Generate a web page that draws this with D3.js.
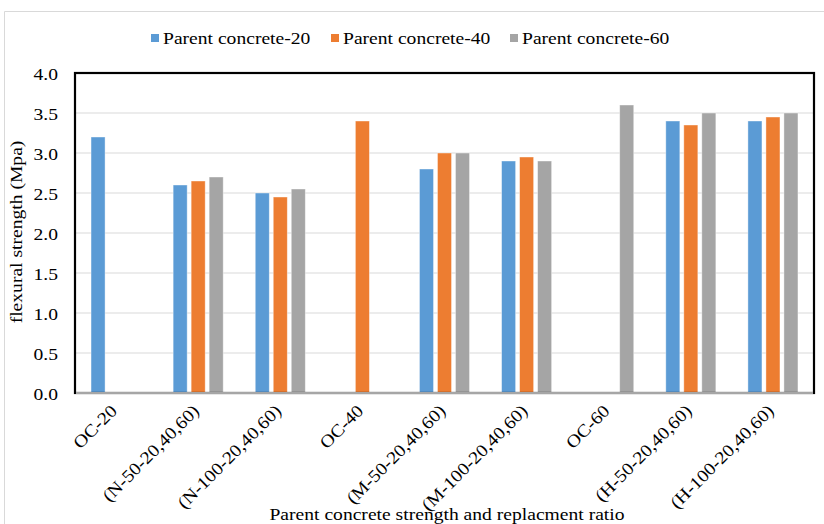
<!DOCTYPE html>
<html>
<head>
<meta charset="utf-8">
<script src="https://cdn.jsdelivr.net/npm/d3@7"></script>
<style>
  html, body { margin: 0; padding: 0; background: #fff; }
  svg { display: block; }
  text { font-family: "Liberation Serif", "Times New Roman", serif; fill: #000; }
</style>
</head>
<body>
<svg id="chart" width="824" height="524"></svg>
<script>
// Mix designs along the x axis
const categories = ["OC-20", "(N-50-20,40,60)", "(N-100-20,40,60)", "OC-40",
  "(M-50-20,40,60)", "(M-100-20,40,60)", "OC-60", "(H-50-20,40,60)", "(H-100-20,40,60)"];

// Flexural strength (MPa) for each parent concrete grade
const seriesNames = ["Parent concrete-20", "Parent concrete-40", "Parent concrete-60"];
const pc20 = [3.2, 2.6, 2.5, 0, 2.8, 2.9, 0, 3.4, 3.4];
const pc40 = [0, 2.65, 2.45, 3.4, 3.0, 2.95, 0, 3.35, 3.45];
const pc60 = [0, 2.7, 2.55, 0, 3.0, 2.9, 3.6, 3.5, 3.5];
const colors = ["#5B9BD5", "#ED7D31", "#A5A5A5"];

const yTicks = [0, 0.5, 1.0, 1.5, 2.0, 2.5, 3.0, 3.5, 4.0];
const yTitle = "flexural strength (Mpa)";
const xTitle = "Parent concrete strength and replacment ratio";

const seriesValues = [pc20, pc40, pc60];

// Wide serif lettering: glyphs are stretched along the reading direction
const FS = 17.5;
const WIDE = "scale(1.12,1)";

const svg = d3.select("#chart");
const plot = { left: 75, right: 814, top: 73, bottom: 393 };

// Outer chart border
svg.append("path")
  .attr("d", `M4.5,524 V11.5 H824`)
  .attr("fill", "none").attr("stroke", "#d9d9d9").attr("stroke-width", 1);

const x = d3.scaleBand().domain(categories).range([plot.left, plot.right]).paddingInner(0).paddingOuter(0);
const x1 = d3.scaleBand().domain(seriesNames).range([0, x.bandwidth()]).paddingInner(0.22).paddingOuter(0.89);
const y = d3.scaleLinear().domain([0, 4]).range([plot.bottom, plot.top]);

// Gridlines
svg.append("g")
  .selectAll("line")
  .data(yTicks)
  .join("line")
  .attr("x1", plot.left).attr("x2", plot.right)
  .attr("y1", d => y(d)).attr("y2", d => y(d))
  .attr("stroke", "#d9d9d9").attr("stroke-width", 1);

// Bars
const groups = svg.append("g")
  .selectAll("g")
  .data(categories)
  .join("g")
  .attr("transform", d => `translate(${x(d)},0)`);

groups.selectAll("rect")
  .data((c, i) => seriesNames.map((s, k) => ({ s, k, v: seriesValues[k][i] })).filter(d => d.v > 0))
  .join("rect")
  .attr("x", d => x1(d.s))
  .attr("width", x1.bandwidth())
  .attr("y", d => y(d.v))
  .attr("height", d => y(0) - y(d.v))
  .attr("fill", d => colors[d.k])
  .attr("stroke", "#ffffff").attr("stroke-opacity", 0.5).attr("stroke-width", 0.8);

// Plot frame
svg.append("rect")
  .attr("x", plot.left).attr("y", plot.top)
  .attr("width", plot.right - plot.left).attr("height", plot.bottom - plot.top)
  .attr("fill", "none").attr("stroke", "#000").attr("stroke-width", 2.2);

// Category axis line
svg.append("line")
  .attr("x1", plot.left + 1).attr("x2", plot.right - 1)
  .attr("y1", plot.bottom).attr("y2", plot.bottom)
  .attr("stroke", "#a6a6a6").attr("stroke-width", 2);

// Y axis labels
const yAxis = d3.axisLeft(y).tickValues(yTicks).tickFormat(d3.format(".1f")).tickSize(0).tickPadding(0);
svg.append("g")
  .attr("transform", `translate(${plot.left},0)`)
  .call(yAxis)
  .call(g => g.select(".domain").remove())
  .selectAll("text")
  .attr("font-family", "Liberation Serif, serif")
  .attr("font-size", FS).attr("fill", "#000")
  .attr("x", 0).attr("dy", "0.35em")
  .attr("transform", `translate(-17,0) ${WIDE}`);

// X axis labels, rotated
const xAxis = d3.axisBottom(x).tickSize(0).tickPadding(0);
svg.append("g")
  .attr("transform", `translate(0,${plot.bottom})`)
  .call(xAxis)
  .call(g => g.select(".domain").remove())
  .selectAll("text")
  .attr("font-family", "Liberation Serif, serif")
  .attr("font-size", FS).attr("fill", "#000")
  .attr("text-anchor", "end")
  .attr("dy", null).attr("y", 0)
  .attr("transform", `translate(2,19) rotate(-45) ${WIDE}`);

// Axis titles
svg.append("text")
  .attr("transform", `translate(22,${(plot.top + plot.bottom) / 2 - 1}) rotate(-90) ${WIDE}`)
  .attr("text-anchor", "middle")
  .attr("font-size", FS)
  .text(yTitle);

svg.append("text")
  .attr("transform", `translate(447,520) ${WIDE}`)
  .attr("text-anchor", "middle")
  .attr("font-size", FS)
  .text(xTitle);

// Legend
const legendX = [151, 331, 510];
const legend = svg.append("g")
  .selectAll("g")
  .data(seriesNames)
  .join("g")
  .attr("transform", (d, i) => `translate(${legendX[i]},34)`);
legend.append("rect")
  .attr("width", 8).attr("height", 8)
  .attr("fill", (d, i) => colors[i]);
legend.append("text")
  .attr("transform", `translate(12,9.5) ${WIDE}`)
  .attr("font-size", FS)
  .text(d => d);
</script>
</body>
</html>
